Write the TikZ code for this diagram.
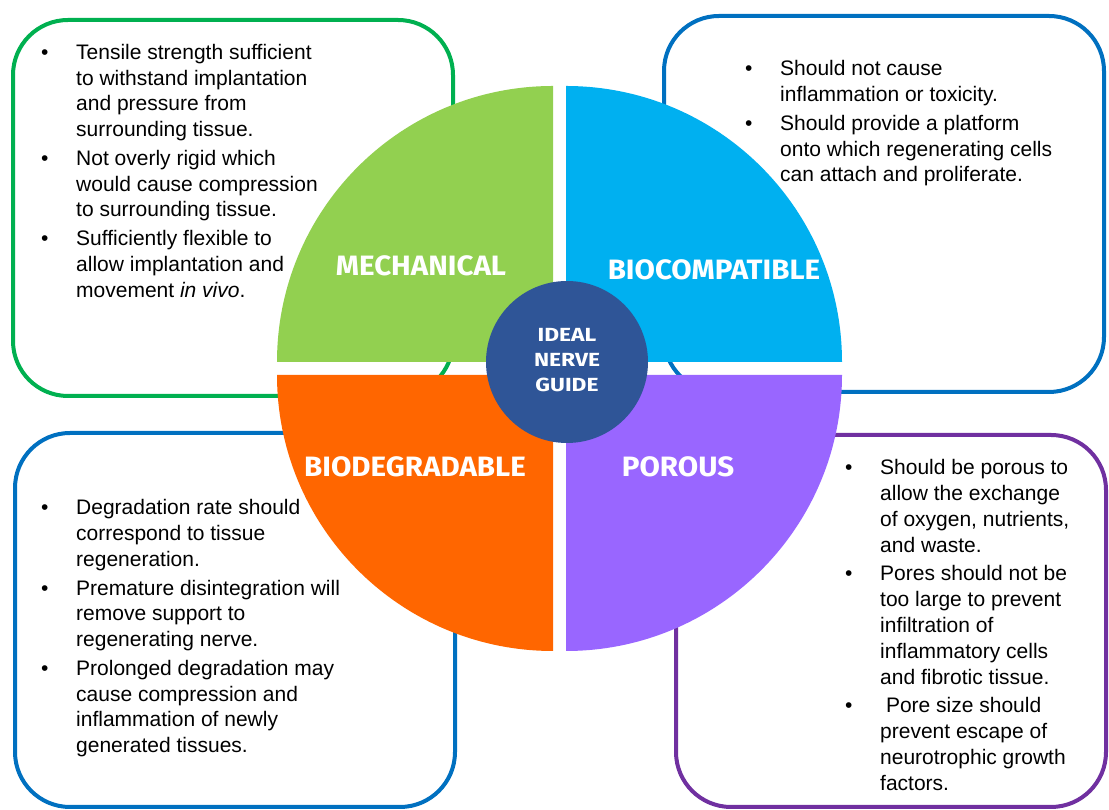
\documentclass[tikz,border=0pt]{standalone}
\usepackage{fontspec}
\setmainfont{Liberation Sans}
\newfontfamily\headfont{Fira Sans}[FakeStretch=1.055]
\newfontfamily\hubfont{Fira Sans}[FakeStretch=1.2]

\definecolor{mechgreen}{HTML}{92D050}
\definecolor{biocyan}{HTML}{00B0F0}
\definecolor{degorange}{HTML}{FF6600}
\definecolor{porpurple}{HTML}{9966FF}
\definecolor{hubblue}{HTML}{2F5597}
\definecolor{edgegreen}{HTML}{00B050}
\definecolor{edgeblue}{HTML}{0070C0}
\definecolor{edgepurple}{HTML}{7030A0}

\tikzset{
  infobox/.style={line width=4pt, rounded corners=55pt, fill=white},
  bullets/.style={anchor=base west, inner sep=0pt, font=\fontsize{21}{25.8}\selectfont},
  tag/.style={anchor=base, inner sep=0pt, text=white, font=\headfont\bfseries\fontsize{28}{28}\selectfont}
}

% one bullet cell, and the extra space between two items
\newcommand\bul{\makebox[35pt][l]{\textbullet}}
\newcommand\gap{\\[2.8pt]}

\begin{document}
\begin{tikzpicture}[x=1pt,y=1pt]
  \useasboundingbox (0,0) rectangle (1109,810);

  \newcommand\R{276}

  % the four text boxes, behind the wheel
  \draw[infobox, draw=edgegreen]  (13,414)  rectangle (453,790);
  \draw[infobox, draw=edgeblue]   (664,418) rectangle (1104,794);
  \draw[infobox, draw=edgeblue]   (15,3)    rectangle (455,377);
  \draw[infobox, draw=edgepurple] (676,3)   rectangle (1106,375);

  % quarters of the wheel
  \fill[mechgreen] (553,448) -- ++(-\R,0) arc[start angle=180, end angle=90, radius=\R] -- cycle;
  \fill[biocyan]   (566,448) -- ++(0,\R)  arc[start angle=90, end angle=0, radius=\R] -- cycle;
  \fill[degorange] (553,435) -- ++(-\R,0) arc[start angle=180, end angle=270, radius=\R] -- cycle;
  \fill[porpurple] (566,435) -- ++(\R,0)  arc[start angle=0, end angle=-90, radius=\R] -- cycle;

  % hub
  \fill[hubblue] (567,448) circle[radius=81];
  \node[text=white, align=center, inner sep=0pt,
        font=\hubfont\bfseries\fontsize{19}{25}\selectfont] (hub) at (567,449.5)
        {IDEAL\\NERVE\\GUIDE};

  \node[tag] (mech) at (421,534) {MECHANICAL};
  \node[tag] (bioc) at (714,530) {BIOCOMPATIBLE};
  \node[tag] (biod) at (415,333) {BIODEGRADABLE};
  \node[tag] (poro) at (678,333) {POROUS};

  % bullet lists
  \node[bullets] (mechtext) at (41,750.7) {\begin{tabular}[t]{@{}l@{}l@{}}
    \bul & Tensile strength sufficient\\
         & to withstand implantation\\
         & and pressure from\\
         & surrounding tissue.\gap
    \bul & Not overly rigid which\\
         & would cause compression\\
         & to surrounding tissue.\gap
    \bul & Sufficiently flexible to\\
         & allow implantation and\\
         & movement \textit{in vivo}.
  \end{tabular}};

  \node[bullets] (bioctext) at (745,734) {\begin{tabular}[t]{@{}l@{}l@{}}
    \bul & Should not cause\\
         & inflammation or toxicity.\gap
    \bul & Should provide a platform\\
         & onto which regenerating cells\\
         & can attach and proliferate.
  \end{tabular}};

  \node[bullets] (biodtext) at (41,295) {\begin{tabular}[t]{@{}l@{}l@{}}
    \bul & Degradation rate should\\
         & correspond to tissue\\
         & regeneration.\gap
    \bul & Premature disintegration will\\
         & remove support to\\
         & regenerating nerve.\gap
    \bul & Prolonged degradation may\\
         & cause compression and\\
         & inflammation of newly\\
         & generated tissues.
  \end{tabular}};

  \node[bullets] (porotext) at (845,335) {\begin{tabular}[t]{@{}l@{}l@{}}
    \bul & Should be porous to\\
         & allow the exchange\\
         & of oxygen, nutrients,\\
         & and waste.\gap
    \bul & Pores should not be\\
         & too large to prevent\\
         & infiltration of\\
         & inflammatory cells\\
         & and fibrotic tissue.\gap
    \bul & \ Pore size should\\
         & prevent escape of\\
         & neurotrophic growth\\
         & factors.
  \end{tabular}};
\end{tikzpicture}
\end{document}
